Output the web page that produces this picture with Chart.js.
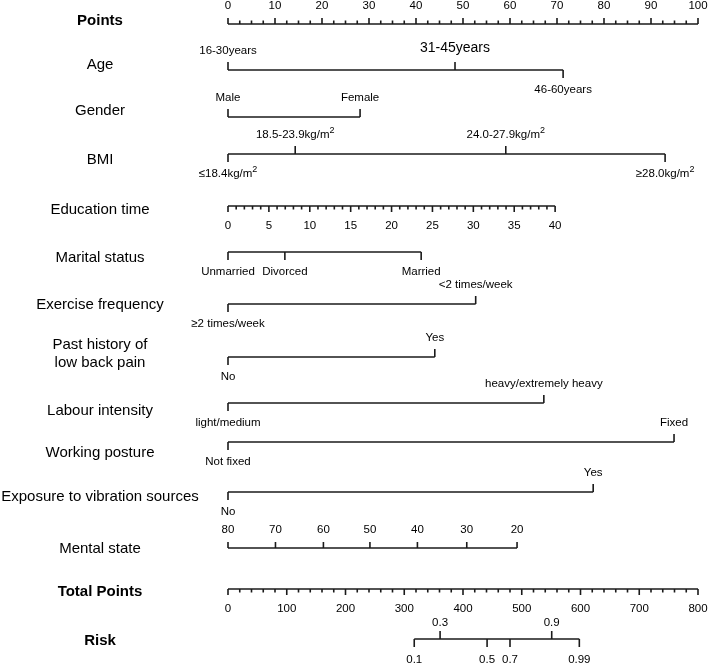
<!DOCTYPE html>
<html>
<head>
<meta charset="utf-8">
<script src="https://cdn.jsdelivr.net/npm/chart.js@4/dist/chart.umd.min.js"></script>
<style>
  body { margin: 0; background: #fff; }
  #wrap { width: 708px; height: 665px; }
</style>
</head>
<body>
<div id="wrap"><canvas id="nomo"></canvas></div>
<script>
'use strict';

// ******** DATA *********************************************
const rowNames = ['Points', 'Age', 'Gender', 'BMI', 'Education time', 'Marital status',
  'Exercise frequency', 'Past history of\nlow back pain', 'Labour intensity', 'Working posture',
  'Exposure to vibration sources', 'Mental state', 'Total Points', 'Risk'];

const pointTicks = [0, 10, 20, 30, 40, 50, 60, 70, 80, 90, 100];

const ageLevels = ['16-30years', '31-45years', '46-60years'];
const agePoints = [0, 48.3, 71.3];

const genderLevels = ['Male', 'Female'];
const genderPoints = [0, 28.1];

const bmiLevels = ['≤18.4kg/m²', '18.5-23.9kg/m²', '24.0-27.9kg/m²', '≥28.0kg/m²'];
const bmiPoints = [0, 14.3, 59.1, 93.0];

const eduTicks = [0, 5, 10, 15, 20, 25, 30, 35, 40];
const eduMaxPoints = 69.6;

const maritalLevels = ['Unmarried', 'Divorced', 'Married'];
const maritalPoints = [0, 12.1, 41.1];

const exerciseLevels = ['≥2 times/week', '<2 times/week'];
const exercisePoints = [0, 52.7];

const backPainLevels = ['No', 'Yes'];
const backPainPoints = [0, 44.0];

const labourLevels = ['light/medium', 'heavy/extremely heavy'];
const labourPoints = [0, 67.2];

const postureLevels = ['Not fixed', 'Fixed'];
const posturePoints = [0, 94.9];

const vibrationLevels = ['No', 'Yes'];
const vibrationPoints = [0, 77.7];

const mentalTicks = [80, 70, 60, 50, 40, 30, 20];
const mentalPoints = [0, 10.1, 20.3, 30.2, 40.3, 50.8, 61.5];

const totalTicks = [0, 100, 200, 300, 400, 500, 600, 700, 800];

const riskTicks = ['0.1', '0.3', '0.5', '0.7', '0.9', '0.99'];
const riskTotal = [317, 361, 441, 480, 551, 598];

// ********* LAYOUT ****************
const rowY = [24, 70, 117, 154, 206, 252, 304, 357, 403, 442, 492, 548, 589, 639];
const nameY = [21, 65, 111, 160, 210, 258, 305, 354, 411, 453, 497, 549, 592, 641];
const boldRows = ['Points', 'Total Points', 'Risk'];
const INK = '#1a1a1a';
const FONT = '"Liberation Sans", Arial, sans-serif';

// categorical rows: which side each level's tick + label goes
const catRows = [
  { row: 1, levels: ageLevels, pts: agePoints, sides: ['up', 'up', 'down'], big: [false, true, false] },
  { row: 2, levels: genderLevels, pts: genderPoints, sides: ['up', 'up'] },
  { row: 3, levels: bmiLevels, pts: bmiPoints, sides: ['down', 'up', 'up', 'down'] },
  { row: 5, levels: maritalLevels, pts: maritalPoints, sides: ['down', 'down', 'down'] },
  { row: 6, levels: exerciseLevels, pts: exercisePoints, sides: ['down', 'up'] },
  { row: 7, levels: backPainLevels, pts: backPainPoints, sides: ['down', 'up'] },
  { row: 8, levels: labourLevels, pts: labourPoints, sides: ['down', 'up'] },
  { row: 9, levels: postureLevels, pts: posturePoints, sides: ['down', 'up'] },
  { row: 10, levels: vibrationLevels, pts: vibrationPoints, sides: ['down', 'up'] }
];

// ********* DATASETS (one line per row) *************
function lineSet(xs, row, axis) {
  return {
    data: xs.map(v => ({ x: v, y: rowY[row] })),
    xAxisID: axis || 'x',
    borderColor: INK,
    borderWidth: 1.6,
    pointRadius: 0,
    fill: false,
    clip: false
  };
}

let datasets = [];
datasets.push(lineSet(pointTicks, 0));
catRows.forEach(r => datasets.push(lineSet(r.pts.slice().sort((a, b) => a - b), r.row)));
datasets.push(lineSet(eduTicks.map(v => v / 40 * eduMaxPoints), 4));
datasets.push(lineSet(mentalPoints, 11));
datasets.push(lineSet(totalTicks, 12, 'xTotal'));
datasets.push(lineSet(riskTotal, 13, 'xTotal'));

// *********** DRAW HELPERS ***************
function tick(ctx, x, y, len, dir) {
  ctx.beginPath();
  ctx.moveTo(x, y);
  ctx.lineTo(x, dir === 'up' ? y - len : y + len);
  ctx.stroke();
}

// draws text centred on x, with '²' rendered as a raised small 2
function label(ctx, text, x, y, size, bold) {
  ctx.font = (bold ? 'bold ' : '') + size + 'px ' + FONT;
  let parts = text.split('²');
  let base = parts[0];
  let supSize = Math.round(size * 0.8);
  let w = ctx.measureText(base).width;
  let supW = 0;
  if (parts.length > 1) {
    ctx.font = supSize + 'px ' + FONT;
    supW = ctx.measureText('2').width;
    ctx.font = (bold ? 'bold ' : '') + size + 'px ' + FONT;
  }
  let left = x - (w + supW) / 2;
  ctx.textAlign = 'left';
  ctx.textBaseline = 'middle';
  ctx.fillText(base, left, y);
  if (parts.length > 1) {
    ctx.font = supSize + 'px ' + FONT;
    ctx.fillText('2', left + w, y - size * 0.4);
  }
}

const nomoPlugin = {
  id: 'nomo',
  afterDatasetsDraw(chart) {
    const ctx = chart.ctx;
    const xs = chart.scales.x;
    const xt = chart.scales.xTotal;
    const TL = 8, MAJ = 6, MIN = 3.5, OFF_UP = 19, OFF_DN = 20, SZ = 11.5;
    ctx.save();
    ctx.strokeStyle = INK;
    ctx.fillStyle = '#000';
    ctx.lineWidth = 1.6;

    // row names
    rowNames.forEach((name, i) => {
      let bold = boldRows.includes(name);
      let lines = name.split('\n');
      lines.forEach((ln, j) => {
        let yy = nameY[i] + (j - (lines.length - 1) / 2) * 18;
        label(ctx, ln, 100, yy, 15, bold);
      });
    });

    // Points axis
    let y0 = rowY[0];
    for (let v = 0; v <= 100; v += 2.5) {
      let major = v % 10 === 0;
      tick(ctx, xs.getPixelForValue(v), y0, major ? MAJ : MIN, 'up');
    }
    pointTicks.forEach(v => label(ctx, String(v), xs.getPixelForValue(v), y0 - 18, SZ));

    // categorical rows
    catRows.forEach(r => {
      let y = rowY[r.row];
      r.levels.forEach((lv, k) => {
        let px = xs.getPixelForValue(r.pts[k]);
        tick(ctx, px, y, TL, r.sides[k]);
        let size = r.big && r.big[k] ? 14 : SZ;
        let ly = r.sides[k] === 'up' ? y - OFF_UP - (size > SZ ? 3 : 0) : y + OFF_DN;
        label(ctx, lv, px, ly, size);
      });
    });

    // Education time
    let ye = rowY[4];
    for (let v = 0; v <= 40; v += 1) {
      tick(ctx, xs.getPixelForValue(v / 40 * eduMaxPoints), ye, v % 5 === 0 ? MAJ : MIN, 'down');
    }
    eduTicks.forEach(v => label(ctx, String(v), xs.getPixelForValue(v / 40 * eduMaxPoints), ye + OFF_DN, SZ));

    // Mental state
    let ym = rowY[11];
    mentalTicks.forEach((v, k) => {
      let px = xs.getPixelForValue(mentalPoints[k]);
      tick(ctx, px, ym, MAJ, 'up');
      label(ctx, String(v), px, ym - 18, SZ);
    });

    // Total Points
    let yt = rowY[12];
    for (let v = 0; v <= 800; v += 20) {
      tick(ctx, xt.getPixelForValue(v), yt, v % 100 === 0 ? MAJ : MIN, 'down');
    }
    totalTicks.forEach(v => label(ctx, String(v), xt.getPixelForValue(v), yt + OFF_DN, SZ));

    // Risk
    let yr = rowY[13];
    const riskSides = ['down', 'up', 'down', 'down', 'up', 'down'];
    riskTicks.forEach((t, k) => {
      let px = xt.getPixelForValue(riskTotal[k]);
      tick(ctx, px, yr, TL, riskSides[k]);
      label(ctx, t, px, riskSides[k] === 'up' ? yr - 16 : yr + 21, SZ);
    });

    ctx.restore();
  }
};

// ********* CHART *******************
let canvasElem = document.getElementById('nomo');

new Chart(canvasElem, {
  type: 'line',
  data: { datasets: datasets },
  options: {
    responsive: true,
    maintainAspectRatio: false,
    animation: false,
    layout: { padding: { left: 228, right: 10, top: 0, bottom: 0 } },
    scales: {
      x: { type: 'linear', min: 0, max: 100, display: false },
      xTotal: { type: 'linear', axis: 'x', min: 0, max: 800, display: false },
      y: { type: 'linear', min: 0, max: 665, reverse: true, display: false }
    },
    plugins: {
      legend: { display: false },
      tooltip: { enabled: false }
    }
  },
  plugins: [nomoPlugin]
});
</script>
</body>
</html>
